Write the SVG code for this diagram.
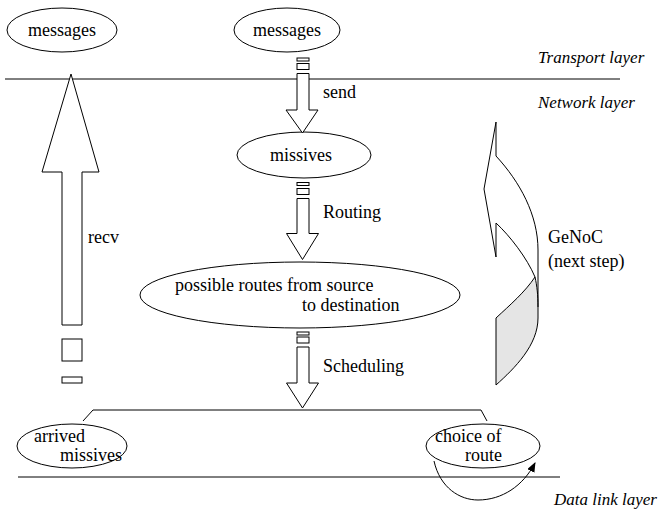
<svg xmlns="http://www.w3.org/2000/svg" width="662" height="511" viewBox="0 0 662 511">
<defs>
<style>
.n{fill:#fff;stroke:#000;stroke-width:1}
.l{fill:none;stroke:#000;stroke-width:1}
text{font-family:'Liberation Serif','Times New Roman','DejaVu Serif',serif;font-size:18px;fill:#000}
.i{font-style:italic;font-size:17px}
</style>
<marker id="ah" markerWidth="10" markerHeight="8" refX="9" refY="4" orient="auto" markerUnits="userSpaceOnUse">
<path d="M0,0 L10,4 L0,8 Z" fill="#000"/>
</marker>
</defs>
<rect width="662" height="511" fill="#fff"/>
<g id="layers">
<line class="l" x1="5" y1="79" x2="620" y2="79"/>
<line class="l" x1="18" y1="477" x2="560" y2="477"/>
<text class="i" x="538" y="63">Transport layer</text>
<text class="i" x="538" y="108">Network layer</text>
<text class="i" x="554" y="505">Data link layer</text>
</g>
<g id="messages-left">
<ellipse class="n" cx="62" cy="30" rx="55" ry="22"/>
<text x="62" y="36" text-anchor="middle">messages</text>
</g>
<g id="messages-center">
<ellipse class="n" cx="287" cy="30" rx="53" ry="22"/>
<text x="287" y="36" text-anchor="middle">messages</text>
</g>
<g id="missives">
<ellipse class="n" cx="304" cy="155" rx="67" ry="23"/>
<text x="301" y="161" text-anchor="middle">missives</text>
</g>
<g id="routes">
<ellipse class="n" cx="300" cy="295" rx="160" ry="33"/>
<text x="175" y="291">possible routes from source</text>
<text x="302" y="311">to destination</text>
</g>
<g id="arrived">
<ellipse class="n" cx="72" cy="446" rx="55" ry="22"/>
<text x="34" y="442">arrived</text>
<text x="60" y="461">missives</text>
</g>
<g id="choice">
<ellipse class="n" cx="483" cy="446" rx="57" ry="22"/>
<text x="435" y="442">choice of</text>
<text x="465" y="461">route</text>
</g>
<g id="connectors">
<rect class="n" x="297" y="58" width="12" height="3"/>
<rect class="n" x="297" y="63.5" width="12" height="6"/>
<path class="n" d="M297,73.5 L309,73.5 L309,110 L318,110 L302.5,133 L286,110 L297,110 Z"/>
<text x="323" y="98">send</text>
<rect class="n" x="297" y="182.5" width="12" height="3"/>
<rect class="n" x="297" y="188.5" width="12" height="6"/>
<path class="n" d="M297,198.5 L309,198.5 L309,233.5 L318.5,233.5 L302.5,259.5 L286.5,233.5 L297,233.5 Z"/>
<text x="323" y="218">Routing</text>
<rect class="n" x="297" y="332" width="12" height="3"/>
<rect class="n" x="297" y="337" width="12" height="6"/>
<path class="n" d="M297,347 L309,347 L309,383 L318.5,383 L302.5,408 L286.5,383 L297,383 Z"/>
<text x="323" y="372">Scheduling</text>
<path class="l" d="M83,421 L93,410 L481,410 L487,421"/>
<path class="n" d="M62,325 L62,172 L42,172 L71,74 L99,172 L82,172 L82,325 Z"/>
<rect class="n" x="62" y="339" width="20" height="22"/>
<rect class="n" x="62" y="377" width="20" height="6"/>
<text x="88" y="243">recv</text>
<path class="l" d="M434,461 C440,488 460,500 478,500 C502,500 523,486 535,463" marker-end="url(#ah)"/>
<path d="M535,277 C525,292 510,305 496,318 L496,385 C515,368 538,345 538,318 L538,307 C538,295 537,286 535,277 Z" fill="#e5e5e5" stroke="none"/>
<path class="l" d="M496,156 L496,122 L484,189 L496,257 L496,223"/>
<path class="l" d="M496,156 C520,182 538,215 538,250 L538,318 C538,345 515,368 496,385 L496,318 C510,305 525,292 535,277"/>
<path class="l" d="M496,223 C510,236 527,258 535,277 C537,286 538,295 538,307"/>
<text x="548" y="243">GeNoC</text>
<text x="548" y="267">(next step)</text>
</g>
</svg>
